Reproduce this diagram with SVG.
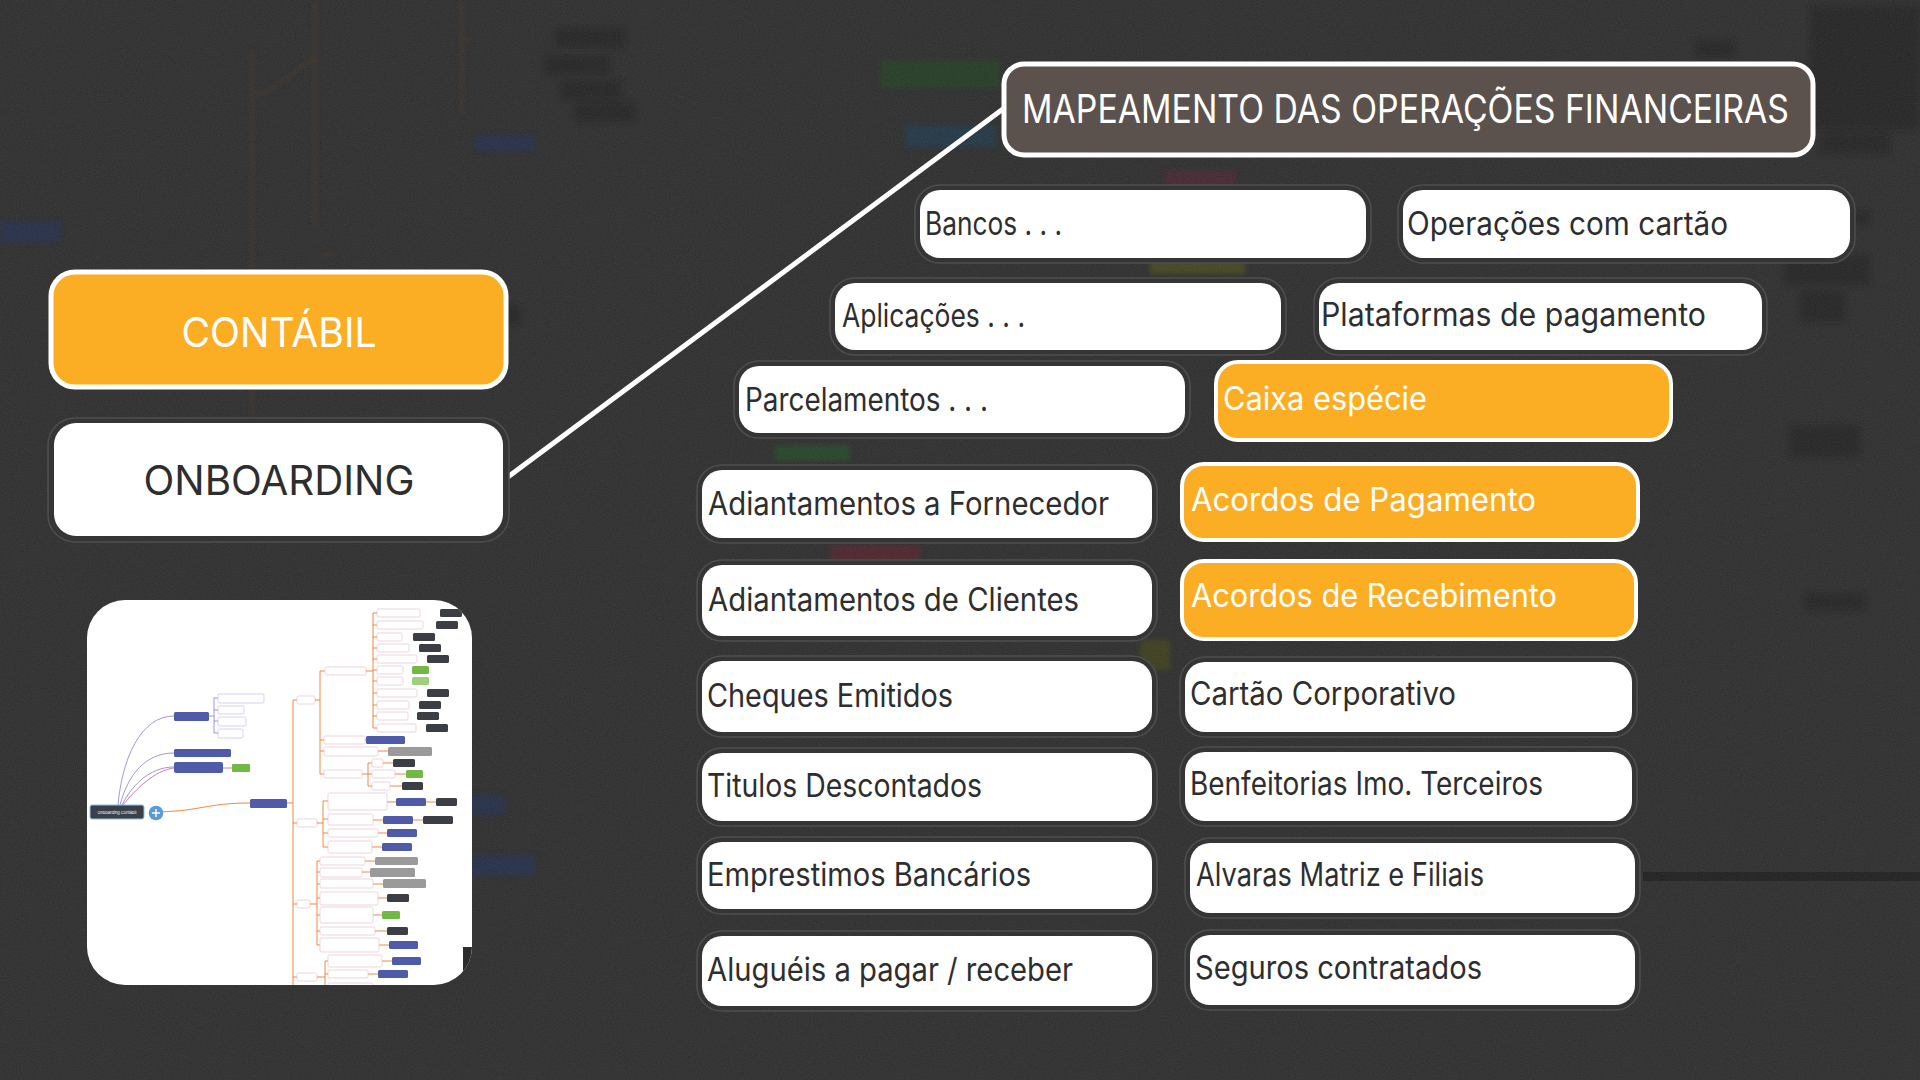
<svg xmlns="http://www.w3.org/2000/svg" width="1920" height="1080" viewBox="0 0 1920 1080">
<defs>
<style>
.ring{fill:#353535;stroke:#4f4f4f;stroke-width:1.5}
.wbox{fill:#ffffff}
.obox{fill:#fbae24;stroke:#ffffff;stroke-width:4}
.lbl{font-family:Inter,"Open Sans","Liberation Sans",sans-serif;font-size:32px;fill:#2e2e2e}
.lblw{font-family:Inter,"Open Sans","Liberation Sans",sans-serif;font-size:32px;fill:#ffffff}
.big{font-family:Inter,"Open Sans","Liberation Sans",sans-serif;font-size:41px;text-anchor:middle}
.t-item{fill:#ffffff;stroke:#e3b9c9;stroke-width:0.6}
.t-item2{fill:#ffffff;stroke:#b9b5e6;stroke-width:0.6}
.t-dark{fill:#3b3f45}
.t-blue{fill:#4f5aa8}
.t-green{fill:#72b845}
.t-grey{fill:#9a9a9a}
.t-or{fill:none;stroke:#ee7a2f;stroke-width:0.9}
.t-pu{fill:none;stroke:#8e7cc3;stroke-width:0.8}
.tt{font-family:Inter,"Liberation Sans",sans-serif;font-size:4px;fill:#ffffff}
.bgline{fill:none;stroke:#5a3a22;stroke-width:2}
.bgbox{fill:#1f1f1f}
</style>
<filter id="noise" x="0" y="0" width="100%" height="100%">
<feTurbulence type="fractalNoise" baseFrequency="0.85" numOctaves="2" seed="3"/>
<feColorMatrix type="matrix" values="0 0 0 0 1  0 0 0 0 1  0 0 0 0 1  0 0 0 0.09 0"/>
</filter>
<filter id="blur"><feGaussianBlur stdDeviation="2.5"/></filter>
<clipPath id="thumbClip"><rect x="87" y="600" width="385" height="385" rx="38"/></clipPath>
</defs>

<!-- background -->
<rect x="0" y="0" width="1920" height="1080" fill="#2c2c2c"/>
<g id="background-blur" filter="url(#blur)" opacity="0.5">
<path class="bgline" d="M252,50 L252,480 M315,0 L315,230 M462,0 L462,115 M315,60 C300,60 285,90 252,95 M462,40 L470,40 M320,255 L335,255 M320,320 L335,320 M250,700 C240,720 250,760 300,780"/>
<rect class="bgbox" x="555" y="28" width="70" height="20"/>
<rect class="bgbox" x="545" y="55" width="65" height="20"/>
<rect class="bgbox" x="560" y="80" width="62" height="20"/>
<rect class="bgbox" x="575" y="102" width="60" height="20"/>
<rect class="bgbox" x="460" y="305" width="60" height="20"/>
<rect class="bgbox" x="1810" y="5" width="110" height="125"/>
<rect class="bgbox" x="1820" y="132" width="70" height="22"/>
<rect class="bgbox" x="1695" y="40" width="40" height="18"/>
<rect class="bgbox" x="1780" y="210" width="90" height="15"/>
<rect class="bgbox" x="1785" y="255" width="85" height="30"/>
<rect class="bgbox" x="1800" y="290" width="45" height="32"/>
<rect class="bgbox" x="1790" y="425" width="70" height="32"/>
<rect class="bgbox" x="1805" y="593" width="60" height="18"/>
<rect x="0" y="222" width="60" height="20" fill="#1f2f5e"/>
<rect x="475" y="135" width="60" height="16" fill="#1f2f5e"/>
<rect x="880" y="60" width="120" height="28" fill="#1f4a1f"/>
<rect x="905" y="125" width="90" height="22" fill="#163f5a"/>
<rect x="1165" y="170" width="70" height="20" fill="#5a2030"/>
<rect x="1150" y="250" width="95" height="24" fill="#5a5a12"/>
<rect x="1440" y="390" width="70" height="18" fill="#1f2f5e"/>
<rect x="775" y="445" width="75" height="16" fill="#1c5a20"/>
<rect x="830" y="545" width="90" height="16" fill="#6a1f2a"/>
<rect x="455" y="795" width="50" height="20" fill="#1f2f5e"/>
<rect x="460" y="855" width="75" height="20" fill="#1f2f5e"/>
<rect x="1140" y="640" width="30" height="30" fill="#4d4d10"/>
</g>
<rect x="1643" y="872" width="277" height="9" fill="#1b1b1b" opacity="0.8"/>
<rect x="0" y="0" width="1920" height="1080" filter="url(#noise)"/>

<!-- thumbnail mind map -->
<g id="thumbnail">
<rect x="87" y="600" width="385" height="385" rx="38" fill="#ffffff"/>
<g clip-path="url(#thumbClip)">
<path class="t-pu" d="M118,805 C122,760 140,716 174,716 M120,805 C128,775 145,753 174,753 M122,805 C132,785 150,767 174,767"/>
<path fill="none" stroke="#c06090" stroke-width="0.8" d="M123,805 C135,790 155,770 174,768 M223,768 L232,768"/>
<path class="t-pu" d="M209,716 L214,716 M214,698 L214,733 M214,698 L218,698 M214,710 L218,710 M214,721 L218,721 M214,733 L218,733"/>
<rect class="t-blue" x="174" y="712" width="35" height="9" rx="1.5"/>
<rect class="t-blue" x="174" y="749" width="57" height="8" rx="1.5"/>
<rect class="t-blue" x="174" y="762" width="49" height="11" rx="2"/>
<rect class="t-green" x="232" y="764" width="18" height="8" rx="1"/>
<rect class="t-item2" x="218" y="694" width="46" height="9" rx="1.5"/>
<rect class="t-item2" x="218" y="706" width="26" height="8" rx="1.5"/>
<rect class="t-item2" x="218" y="717" width="28" height="9" rx="1.5"/>
<rect class="t-item2" x="218" y="729" width="25" height="9" rx="1.5"/>
<path class="t-or" stroke-width="1.4" d="M150,812 C200,812 205,803 250,803"/>
<rect x="90" y="805" width="54" height="14" rx="2" fill="#3b3f47" stroke="#8fc1ea" stroke-width="1"/>
<text class="tt" x="117" y="813.5" text-anchor="middle">Onboarding Contábil</text>
<circle cx="156" cy="813" r="7.3" fill="#5b9bd5"/>
<path d="M152,813 L160,813 M156,809 L156,817" stroke="#ffffff" stroke-width="1.4"/>
<rect class="t-blue" x="250" y="799" width="37" height="9" rx="1.5"/>
<path class="t-or" d="M287,803 L293,803 M293,700 L293,990 M293,700 L297,700 M293,823 L297,823 M293,904 L297,904 M293,977 L297,977"/>
<rect class="t-item" x="297" y="696" width="18" height="8" rx="1.5"/>
<rect class="t-item" x="297" y="819" width="20" height="8" rx="1.5"/>
<rect class="t-item" x="297" y="900" width="13" height="8" rx="1.5"/>
<rect class="t-item" x="297" y="973" width="20" height="8" rx="1.5"/>
<path class="t-or" d="M315,700 L320,700 M320,671 L320,774 M320,671 L325,671 M320,740 L324,740 M320,751 L324,751 M320,774 L324,774 M365,740 L366,740 M378,751 L388,751 M362,774 L368,774 M368,763 L368,786 M368,763 L372,763 M368,774 L372,774 M368,786 L372,786 M383,763 L393,763 M395,774 L406,774 M390,786 L402,786"/>
<rect class="t-item" x="325" y="667" width="41" height="8" rx="1.5"/>
<rect class="t-item" x="324" y="736" width="41" height="8" rx="1.5"/>
<rect class="t-blue" x="366" y="736" width="39" height="8" rx="1.5"/>
<rect class="t-item" x="324" y="747" width="54" height="9" rx="1.5"/>
<rect class="t-grey" x="388" y="747" width="44" height="9" rx="1.5"/>
<rect class="t-item" x="324" y="770" width="38" height="8" rx="1.5"/>
<rect class="t-item" x="372" y="759" width="11" height="8" rx="1.5"/>
<rect class="t-dark" x="393" y="759" width="22" height="8" rx="1.5"/>
<rect class="t-item" x="372" y="770" width="23" height="8" rx="1.5"/>
<rect class="t-green" x="406" y="770" width="17" height="8" rx="1.5"/>
<rect class="t-item" x="372" y="782" width="18" height="8" rx="1.5"/>
<rect class="t-dark" x="402" y="782" width="21" height="8" rx="1.5"/>
<path class="t-or" d="M366,671 L373,671 M373,613 L373,728 M373,613 L377,613 M373,625 L377,625 M373,637 L377,637 M373,648 L377,648 M373,659 L377,659 M373,670 L377,670 M373,681 L377,681 M373,693 L377,693 M373,705 L377,705 M373,716 L377,716 M373,728 L377,728"/>
<g>
<rect class="t-item" x="377" y="609" width="43" height="8" rx="1.5"/><rect class="t-dark" x="440" y="609" width="22" height="8" rx="1.5"/>
<rect class="t-item" x="377" y="621" width="46" height="8" rx="1.5"/><rect class="t-dark" x="436" y="621" width="22" height="8" rx="1.5"/>
<rect class="t-item" x="377" y="633" width="25" height="8" rx="1.5"/><rect class="t-dark" x="413" y="633" width="22" height="8" rx="1.5"/>
<rect class="t-item" x="377" y="644" width="32" height="8" rx="1.5"/><rect class="t-dark" x="419" y="644" width="22" height="8" rx="1.5"/>
<rect class="t-item" x="377" y="655" width="40" height="8" rx="1.5"/><rect class="t-dark" x="427" y="655" width="22" height="8" rx="1.5"/>
<rect class="t-item" x="377" y="666" width="26" height="8" rx="1.5"/><rect class="t-green" x="412" y="666" width="17" height="8" rx="1.5"/>
<rect class="t-item" x="377" y="677" width="26" height="8" rx="1.5"/><rect x="412" y="677" width="17" height="8" rx="1.5" fill="#9bd17a"/>
<rect class="t-item" x="377" y="689" width="40" height="8" rx="1.5"/><rect class="t-dark" x="427" y="689" width="22" height="8" rx="1.5"/>
<rect class="t-item" x="377" y="701" width="32" height="8" rx="1.5"/><rect class="t-dark" x="419" y="701" width="22" height="8" rx="1.5"/>
<rect class="t-item" x="377" y="712" width="31" height="8" rx="1.5"/><rect class="t-dark" x="417" y="712" width="22" height="8" rx="1.5"/>
<rect class="t-item" x="377" y="724" width="39" height="8" rx="1.5"/><rect class="t-dark" x="426" y="724" width="22" height="8" rx="1.5"/>
</g>
<path class="t-or" d="M317,823 L323,823 M323,801 L323,847 M323,801 L328,801 M323,819 L328,819 M323,833 L328,833 M323,847 L328,847 M387,802 L396,802 M426,802 L436,802 M373,820 L383,820 M413,820 L423,820 M378,833 L387,833 M372,847 L382,847"/>
<rect class="t-item" x="328" y="793" width="59" height="17" rx="1.5"/>
<rect class="t-blue" x="396" y="798" width="30" height="8" rx="1.5"/>
<rect class="t-dark" x="436" y="798" width="21" height="8" rx="1.5"/>
<rect class="t-item" x="328" y="814" width="45" height="11" rx="1.5"/>
<rect class="t-blue" x="383" y="816" width="30" height="8" rx="1.5"/>
<rect class="t-dark" x="423" y="816" width="30" height="8" rx="1.5"/>
<rect class="t-item" x="328" y="829" width="50" height="8" rx="1.5"/>
<rect class="t-blue" x="387" y="829" width="30" height="8" rx="1.5"/>
<rect class="t-item" x="328" y="841" width="44" height="12" rx="1.5"/>
<rect class="t-blue" x="382" y="843" width="30" height="8" rx="1.5"/>
<path class="t-or" d="M310,904 L317,904 M317,861 L317,945 M317,861 L320,861 M317,872 L320,872 M317,884 L320,884 M317,898 L320,898 M317,915 L320,915 M317,931 L320,931 M317,945 L320,945 M365,861 L375,861 M362,872 L370,872 M373,884 L383,884 M378,898 L387,898 M373,915 L382,915 M375,931 L387,931 M379,945 L389,945"/>
<rect class="t-item" x="320" y="857" width="45" height="8" rx="1.5"/><rect class="t-grey" x="375" y="857" width="43" height="8" rx="1.5"/>
<rect class="t-item" x="320" y="868" width="42" height="9" rx="1.5"/><rect class="t-grey" x="370" y="868" width="45" height="9" rx="1.5"/>
<rect class="t-item" x="320" y="879" width="53" height="9" rx="1.5"/><rect class="t-grey" x="383" y="879" width="43" height="9" rx="1.5"/>
<rect class="t-item" x="320" y="892" width="58" height="13" rx="1.5"/><rect class="t-dark" x="387" y="894" width="22" height="8" rx="1.5"/>
<rect class="t-item" x="320" y="907" width="53" height="16" rx="1.5"/><rect class="t-green" x="382" y="911" width="18" height="8" rx="1.5"/>
<rect class="t-item" x="320" y="927" width="55" height="8" rx="1.5"/><rect class="t-dark" x="387" y="927" width="21" height="8" rx="1.5"/>
<rect class="t-item" x="320" y="938" width="59" height="14" rx="1.5"/><rect class="t-blue" x="389" y="941" width="29" height="8" rx="1.5"/>
<path class="t-or" d="M317,977 L325,977 M325,961 L325,995 M325,961 L328,961 M325,974 L328,974 M325,987 L328,987 M382,961 L392,961 M368,974 L378,974"/>
<rect class="t-item" x="328" y="955" width="54" height="12" rx="1.5"/><rect class="t-blue" x="392" y="957" width="29" height="8" rx="1.5"/>
<rect class="t-item" x="328" y="970" width="40" height="8" rx="1.5"/><rect class="t-blue" x="378" y="970" width="30" height="8" rx="1.5"/>
<rect class="t-item" x="328" y="983" width="45" height="8" rx="1.5"/>
<rect x="463" y="947" width="12" height="40" fill="#2c2c2c"/>
</g>
</g>

<!-- connectors -->
<g id="connectors">
<line x1="505" y1="479" x2="1007" y2="106" stroke="#ffffff" stroke-width="5" stroke-linecap="round"/>
</g>

<!-- left nodes -->
<g id="node-contabil">
<rect x="51" y="272" width="455" height="115" rx="24" fill="#fbae24" stroke="#ffffff" stroke-width="5"/>
<text class="big" x="279" y="347" fill="#ffffff" textLength="195" lengthAdjust="spacingAndGlyphs">CONTÁBIL</text>
</g>
<g id="node-onboarding">
<rect x="48" y="418" width="461" height="124" rx="27" class="ring"/>
<rect x="54" y="423" width="449" height="113" rx="22" class="wbox"/>
<text class="big" x="279" y="495" fill="#2e2e2e" textLength="271" lengthAdjust="spacingAndGlyphs">ONBOARDING</text>
</g>

<!-- title -->
<g id="node-title">
<rect x="1004" y="64" width="809" height="91" rx="20" fill="#5b524e" stroke="#ffffff" stroke-width="5"/>
<text x="1022" y="123" font-family="Inter, 'Open Sans', 'Liberation Sans', sans-serif" font-size="39" fill="#ffffff" textLength="767" lengthAdjust="spacingAndGlyphs">MAPEAMENTO DAS OPERAÇÕES FINANCEIRAS</text>
</g>

<!-- white and orange boxes -->
<g id="node-bancos">
<rect class="ring" x="915" y="185" width="456" height="78" rx="25"/>
<rect class="wbox" x="920" y="190" width="446" height="68" rx="20"/>
<text class="lbl" x="925" y="235" textLength="137" lengthAdjust="spacingAndGlyphs">Bancos . . .</text>
</g>
<g id="node-operacoes-cartao">
<rect class="ring" x="1398" y="185" width="457" height="78" rx="25"/>
<rect class="wbox" x="1403" y="190" width="447" height="68" rx="20"/>
<text class="lbl" x="1407" y="235" textLength="321" lengthAdjust="spacingAndGlyphs">Operações com cartão</text>
</g>
<g id="node-aplicacoes">
<rect class="ring" x="830" y="278" width="456" height="77" rx="25"/>
<rect class="wbox" x="835" y="283" width="446" height="67" rx="20"/>
<text class="lbl" x="842" y="327" textLength="183" lengthAdjust="spacingAndGlyphs">Aplicações . . .</text>
</g>
<g id="node-plataformas">
<rect class="ring" x="1314" y="278" width="453" height="77" rx="25"/>
<rect class="wbox" x="1319" y="283" width="443" height="67" rx="20"/>
<text class="lbl" x="1321" y="326" textLength="385" lengthAdjust="spacingAndGlyphs">Plataformas de pagamento</text>
</g>
<g id="node-parcelamentos">
<rect class="ring" x="734" y="361" width="456" height="77" rx="25"/>
<rect class="wbox" x="739" y="366" width="446" height="67" rx="20"/>
<text class="lbl" x="745" y="411" textLength="243" lengthAdjust="spacingAndGlyphs">Parcelamentos . . .</text>
</g>
<g id="node-caixa-especie">
<rect class="obox" x="1216" y="362" width="455" height="78" rx="22"/>
<text class="lblw" x="1223" y="410" textLength="204" lengthAdjust="spacingAndGlyphs">Caixa espécie</text>
</g>
<g id="node-adiant-fornecedor">
<rect class="ring" x="697" y="465" width="460" height="78" rx="25"/>
<rect class="wbox" x="702" y="470" width="450" height="68" rx="20"/>
<text class="lbl" x="708" y="515" textLength="401" lengthAdjust="spacingAndGlyphs">Adiantamentos a Fornecedor</text>
</g>
<g id="node-acordos-pagamento">
<rect class="obox" x="1182" y="464" width="456" height="76" rx="22"/>
<text class="lblw" x="1191" y="511" textLength="345" lengthAdjust="spacingAndGlyphs">Acordos de Pagamento</text>
</g>
<g id="node-adiant-clientes">
<rect class="ring" x="697" y="560" width="460" height="81" rx="25"/>
<rect class="wbox" x="702" y="565" width="450" height="71" rx="20"/>
<text class="lbl" x="708" y="611" textLength="371" lengthAdjust="spacingAndGlyphs">Adiantamentos de Clientes</text>
</g>
<g id="node-acordos-recebimento">
<rect class="obox" x="1182" y="561" width="454" height="78" rx="22"/>
<text class="lblw" x="1191" y="607" textLength="366" lengthAdjust="spacingAndGlyphs">Acordos de Recebimento</text>
</g>
<g id="node-cheques">
<rect class="ring" x="697" y="656" width="460" height="81" rx="25"/>
<rect class="wbox" x="702" y="661" width="450" height="71" rx="20"/>
<text class="lbl" x="707" y="707" textLength="246" lengthAdjust="spacingAndGlyphs">Cheques Emitidos</text>
</g>
<g id="node-cartao-corporativo">
<rect class="ring" x="1180" y="657" width="457" height="80" rx="25"/>
<rect class="wbox" x="1185" y="662" width="447" height="70" rx="20"/>
<text class="lbl" x="1190" y="705" textLength="266" lengthAdjust="spacingAndGlyphs">Cartão Corporativo</text>
</g>
<g id="node-titulos">
<rect class="ring" x="697" y="748" width="460" height="78" rx="25"/>
<rect class="wbox" x="702" y="753" width="450" height="68" rx="20"/>
<text class="lbl" x="707" y="797" textLength="275" lengthAdjust="spacingAndGlyphs">Titulos Descontados</text>
</g>
<g id="node-benfeitorias">
<rect class="ring" x="1180" y="747" width="457" height="79" rx="25"/>
<rect class="wbox" x="1185" y="752" width="447" height="69" rx="20"/>
<text class="lbl" x="1190" y="795" textLength="353" lengthAdjust="spacingAndGlyphs">Benfeitorias Imo. Terceiros</text>
</g>
<g id="node-emprestimos">
<rect class="ring" x="697" y="837" width="460" height="77" rx="25"/>
<rect class="wbox" x="702" y="842" width="450" height="67" rx="20"/>
<text class="lbl" x="707" y="886" textLength="324" lengthAdjust="spacingAndGlyphs">Emprestimos Bancários</text>
</g>
<g id="node-alvaras">
<rect class="ring" x="1185" y="838" width="455" height="80" rx="25"/>
<rect class="wbox" x="1190" y="843" width="445" height="70" rx="20"/>
<text class="lbl" x="1196" y="886" textLength="288" lengthAdjust="spacingAndGlyphs">Alvaras Matriz e Filiais</text>
</g>
<g id="node-alugueis">
<rect class="ring" x="697" y="931" width="460" height="80" rx="25"/>
<rect class="wbox" x="702" y="936" width="450" height="70" rx="20"/>
<text class="lbl" x="707" y="981" textLength="366" lengthAdjust="spacingAndGlyphs">Aluguéis a pagar / receber</text>
</g>
<g id="node-seguros">
<rect class="ring" x="1185" y="930" width="455" height="80" rx="25"/>
<rect class="wbox" x="1190" y="935" width="445" height="70" rx="20"/>
<text class="lbl" x="1195" y="979" textLength="287" lengthAdjust="spacingAndGlyphs">Seguros contratados</text>
</g>
</svg>
